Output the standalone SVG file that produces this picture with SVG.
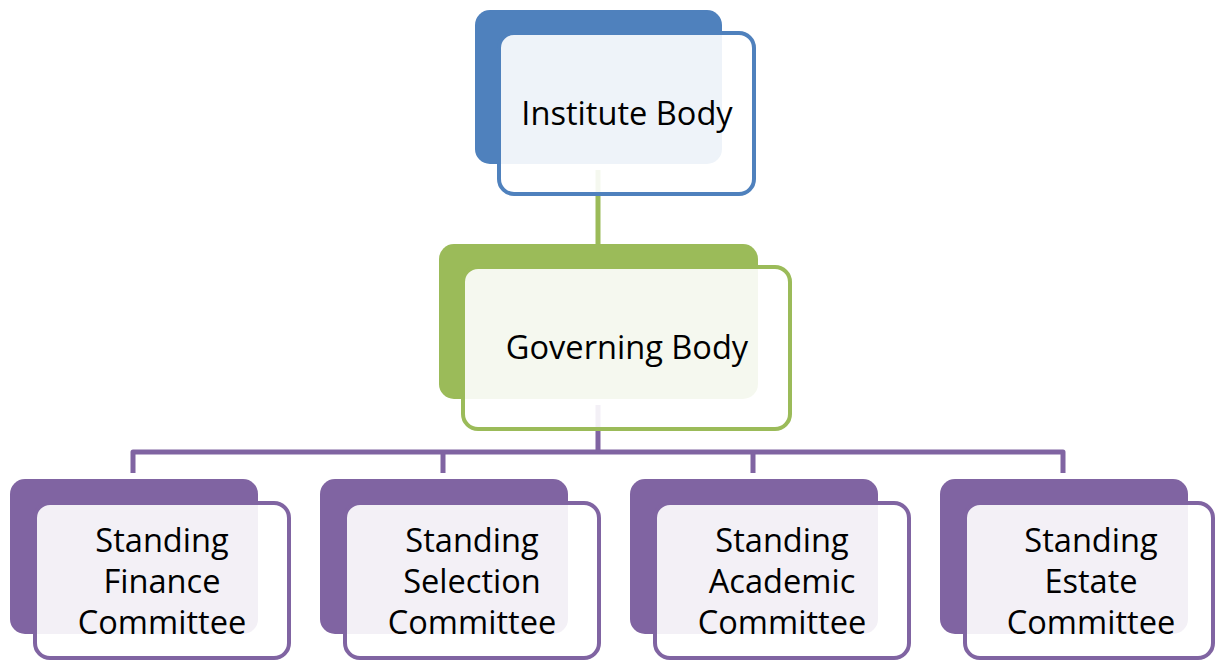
<svg xmlns="http://www.w3.org/2000/svg" width="1215" height="662" viewBox="0 0 1215 662">
<style>
.back{stroke:none}
.front{fill:#fff;fill-opacity:0.9;stroke-width:4}
.lbl{font-family:"Open Sans","Liberation Sans",sans-serif;font-size:32.6px;fill:#000;text-anchor:middle}
.b .back{fill:#4F81BD}.b .front{stroke:#4F81BD}
.g .back{fill:#9BBB59}.g .front{stroke:#9BBB59}
.p .back{fill:#8064A2}.p .front{stroke:#8064A2}
</style>
<rect width="1215" height="662" fill="#fff"/>
<g id="connectors" fill="none" stroke-width="5">
<line x1="598" y1="170" x2="598" y2="244" stroke="#9BBB59"/>
<path d="M598 405V452M133 473V452H1063V473M443 452V473M753 452V473" stroke="#8064A2" stroke-linejoin="round"/>
</g>
<g id="institute" class="b">
<rect class="back" x="475" y="10" width="247" height="154" rx="15"/>
<rect class="front" x="499" y="33" width="255" height="161" rx="15"/>
<text class="lbl" x="627" y="125">Institute Body</text>
</g>
<g id="governing" class="g">
<rect class="back" x="439" y="244" width="319" height="155" rx="15"/>
<rect class="front" x="463" y="267" width="327" height="162" rx="15"/>
<text class="lbl" x="627" y="359">Governing Body</text>
</g>
<g id="finance" class="p">
<rect class="back" x="10" y="479" width="248" height="155" rx="15"/>
<rect class="front" x="35" y="503" width="254" height="155" rx="15"/>
<text class="lbl" x="162" y="552">Standing</text>
<text class="lbl" x="162" y="593">Finance</text>
<text class="lbl" x="162" y="634">Committee</text>
</g>
<g id="selection" class="p">
<rect class="back" x="320" y="479" width="248" height="155" rx="15"/>
<rect class="front" x="345" y="503" width="254" height="155" rx="15"/>
<text class="lbl" x="472" y="552">Standing</text>
<text class="lbl" x="472" y="593">Selection</text>
<text class="lbl" x="472" y="634">Committee</text>
</g>
<g id="academic" class="p">
<rect class="back" x="630" y="479" width="248" height="155" rx="15"/>
<rect class="front" x="655" y="503" width="254" height="155" rx="15"/>
<text class="lbl" x="782" y="552">Standing</text>
<text class="lbl" x="782" y="593">Academic</text>
<text class="lbl" x="782" y="634">Committee</text>
</g>
<g id="estate" class="p">
<rect class="back" x="940" y="479" width="248" height="155" rx="15"/>
<rect class="front" x="965" y="503" width="248" height="155" rx="15"/>
<text class="lbl" x="1091" y="552">Standing</text>
<text class="lbl" x="1091" y="593">Estate</text>
<text class="lbl" x="1091" y="634">Committee</text>
</g>
</svg>
